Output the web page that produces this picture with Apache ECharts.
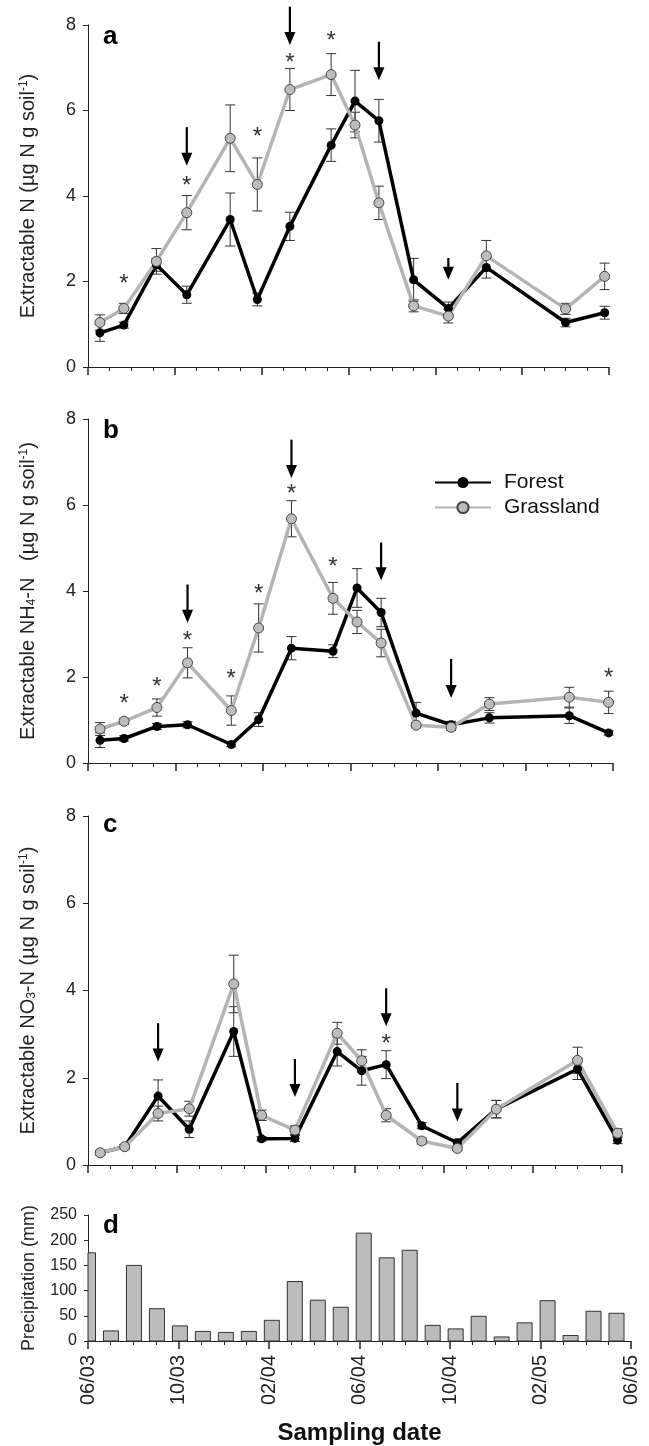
<!DOCTYPE html>
<html>
<head>
<meta charset="utf-8">
<title>Extractable N and precipitation</title>
<script src="https://cdn.jsdelivr.net/npm/echarts@6/dist/echarts.min.js"></script>
<style>
  html, body { margin: 0; padding: 0; background: #fff; }
  #chart { width: 649px; height: 1446px; }
</style>
</head>
<body>
<div id="chart"></div>
<script>
// sampling dates, in months after 1 June 2003
const sampleMonths = [0.55, 1.65, 3.15, 4.55, 6.55, 7.8, 9.3, 11.2, 12.3, 13.4, 15.0, 16.6, 18.35, 22.0, 23.8];
const dateLabels = ['06/03', '10/03', '02/04', '06/04', '10/04', '02/05', '06/05'];

// a: extractable N (mean and standard error)
const forestN = [0.80, 0.98, 2.39, 1.69, 3.45, 1.58, 3.29, 5.19, 6.22, 5.76, 2.04, 1.37, 2.33, 1.04, 1.27];
const forestNse = [0.2, 0.07, 0.15, 0.2, 0.62, 0.15, 0.33, 0.38, 0.72, 0.5, 0.5, 0.15, 0.25, 0.1, 0.15];
const grassN = [1.04, 1.37, 2.47, 3.61, 5.35, 4.27, 6.49, 6.84, 5.66, 3.84, 1.43, 1.19, 2.60, 1.36, 2.12];
const grassNse = [0.18, 0.12, 0.3, 0.4, 0.78, 0.62, 0.49, 0.49, 0.3, 0.39, 0.14, 0.16, 0.36, 0.13, 0.31];

// b: extractable NH4-N
const forestNH4 = [0.53, 0.57, 0.85, 0.89, 0.43, 1.01, 2.67, 2.60, 4.07, 3.50, 1.16, 0.89, 1.05, 1.10, 0.70];
const forestNH4se = [0.17, 0.06, 0.07, 0.07, 0.05, 0.16, 0.27, 0.15, 0.45, 0.33, 0.25, 0.08, 0.12, 0.18, 0.05];
const grassNH4 = [0.79, 0.97, 1.29, 2.33, 1.22, 3.14, 5.68, 3.83, 3.28, 2.79, 0.88, 0.83, 1.37, 1.53, 1.41];
const grassNH4se = [0.15, 0.07, 0.2, 0.35, 0.34, 0.56, 0.42, 0.37, 0.27, 0.32, 0.06, 0.07, 0.15, 0.23, 0.26];

// c: extractable NO3-N
const forestNO3 = [0.28, 0.42, 1.58, 0.82, 3.06, 0.60, 0.61, 2.60, 2.16, 2.30, 0.90, 0.51, 1.28, 2.20, 0.57];
const forestNO3se = [0.05, 0.05, 0.37, 0.19, 0.57, 0.05, 0.07, 0.33, 0.33, 0.32, 0.07, 0.08, 0.2, 0.24, 0.08];
const grassNO3 = [0.28, 0.42, 1.18, 1.29, 4.15, 1.14, 0.80, 3.02, 2.39, 1.14, 0.55, 0.38, 1.28, 2.40, 0.73];
const grassNO3se = [0.05, 0.05, 0.17, 0.17, 0.66, 0.12, 0.1, 0.25, 0.25, 0.15, 0.07, 0.05, 0.2, 0.3, 0.1];

// arrows: [sample index, tail value, tip value]; asterisks: [sample index, value]
const arrowsN = [[3, 5.61, 4.71], [6, 8.43, 7.53], [9, 7.61, 6.71], [11, 2.55, 2.04]];
const arrowsNH4 = [[3, 4.15, 3.26], [6, 7.52, 6.63], [9, 5.13, 4.25], [11, 2.42, 1.51]];
const arrowsNO3 = [[2, 3.25, 2.37], [6, 2.43, 1.56], [9, 4.05, 3.18], [11, 1.88, 1.00]];
const starsN = [[1, 2.04], [3, 4.35], [5, 5.49], [6, 7.22], [7, 7.73]];
const starsNH4 = [[1, 1.49], [2, 1.88], [3, 2.95], [4, 2.05], [5, 4.03], [6, 6.37], [7, 4.67], [14, 2.09]];
const starsNO3 = [[9, 2.89]];

// d: monthly precipitation (mm), June 2003 .. May 2005
const precipitation = [175, 20, 150, 64, 30, 19, 17, 19, 41, 118, 81, 67, 214, 165, 180, 31, 24, 49, 8, 36, 80, 11, 59, 55];

const FONT = '"Liberation Sans", Arial, Helvetica, sans-serif';
const INK = '#222';

const panels = [
  { letter: 'a', forest: forestN, forestSe: forestNse, grass: grassN, grassSe: grassNse,
    arrows: arrowsN, stars: starsN, name: 'Extractable N (µg N g soil{sup|-1})',
    top: 25, height: 342, width: 521, letterTop: 24 },
  { letter: 'b', forest: forestNH4, forestSe: forestNH4se, grass: grassNH4, grassSe: grassNH4se,
    arrows: arrowsNH4, stars: starsNH4, name: 'Extractable NH{sub|4}-N   (µg N g soil{sup|-1})',
    top: 419, height: 344, width: 525, letterTop: 418 },
  { letter: 'c', forest: forestNO3, forestSe: forestNO3se, grass: grassNO3, grassSe: grassNO3se,
    arrows: arrowsNO3, stars: starsNO3, name: 'Extractable NO{sub|3}-N (µg N g soil{sup|-1})',
    top: 816, height: 349, width: 534, letterTop: 812 }
];

function renderErrorBar(params, api) {
  const lo = api.coord([api.value(0), api.value(1)]);
  const hi = api.coord([api.value(0), api.value(2)]);
  const style = { stroke: '#333', lineWidth: 1 };
  return {
    type: 'group',
    children: [
      { type: 'line', shape: { x1: lo[0], y1: lo[1], x2: hi[0], y2: hi[1] }, style: style },
      { type: 'line', shape: { x1: lo[0] - 5, y1: lo[1], x2: lo[0] + 5, y2: lo[1] }, style: style },
      { type: 'line', shape: { x1: hi[0] - 5, y1: hi[1], x2: hi[0] + 5, y2: hi[1] }, style: style }
    ]
  };
}

function renderArrow(params, api) {
  const tail = api.coord([api.value(0), api.value(1)]);
  const tip = api.coord([api.value(0), api.value(2)]);
  return {
    type: 'group',
    children: [
      { type: 'line', shape: { x1: tail[0], y1: tail[1], x2: tip[0], y2: tip[1] - 10 },
        style: { stroke: '#000', lineWidth: 2.2 } },
      { type: 'polygon', shape: { points: [[tip[0] - 5.5, tip[1] - 13], [tip[0] + 5.5, tip[1] - 13], [tip[0], tip[1]]] },
        style: { fill: '#000' } }
    ]
  };
}

function renderStar(params, api) {
  const p = api.coord([api.value(0), api.value(1)]);
  return {
    type: 'text',
    x: p[0],
    y: p[1] + 5,
    style: { text: '*', font: '24px ' + FONT, fill: '#333', align: 'center', verticalAlign: 'middle' }
  };
}

// precipitation bars, cut off at the plot edge like the first (June 2003) bar
function renderBar(params, api) {
  const top = api.coord([api.value(0), api.value(1)]);
  const base = api.coord([api.value(0), 0]);
  const cs = params.coordSys;
  const shape = echarts.graphic.clipRectByRect(
    { x: top[0] - 7.5, y: top[1], width: 15, height: base[1] - top[1] },
    { x: cs.x, y: cs.y, width: cs.width, height: cs.height }
  );
  return shape && {
    type: 'rect', shape: shape,
    style: { fill: '#bcbcbc', stroke: '#333', lineWidth: 1 }
  };
}

const grid = [];
const xAxis = [];
const yAxis = [];
const series = [];

const nameRich = {
  sup: { fontSize: 12, fontFamily: FONT, color: INK, verticalAlign: 'top' },
  sub: { fontSize: 12, fontFamily: FONT, color: INK, verticalAlign: 'bottom' }
};

function timeAxis(i, extra) {
  return Object.assign({
    gridIndex: i, type: 'value', min: 0, max: 24, interval: 4,
    axisLine: { show: true, onZero: false, lineStyle: { color: INK, width: 1 } },
    axisTick: { show: true, length: 8, lineStyle: { color: INK, width: 1.5 } },
    minorTick: { show: true, splitNumber: 4, length: 4, lineStyle: { color: INK, width: 1 } },
    axisLabel: { show: false },
    splitLine: { show: false },
    minorSplitLine: { show: false }
  }, extra || {});
}

panels.forEach((p, i) => {
  grid.push({ left: 88, top: p.top, width: p.width, height: p.height });
  xAxis.push(timeAxis(i));
  yAxis.push({
    gridIndex: i, type: 'value', min: 0, max: 8, interval: 2,
    axisLine: { show: true, lineStyle: { color: INK, width: 1 } },
    axisTick: { show: true, length: 5, lineStyle: { color: INK } },
    axisLabel: { fontSize: 18, color: INK, margin: 12, fontFamily: FONT },
    splitLine: { show: false },
    name: p.name, nameLocation: 'middle', nameRotate: 90, nameGap: 50,
    nameTextStyle: { fontSize: 20, color: INK, fontFamily: FONT, rich: nameRich }
  });

  const pts = (vals) => vals.map((v, k) => [sampleMonths[k], v]);
  const bars = (vals, se) => vals.map((v, k) => [sampleMonths[k], v - se[k], v + se[k]]);

  series.push(
    { type: 'custom', xAxisIndex: i, yAxisIndex: i, renderItem: renderErrorBar,
      encode: { x: 0, y: [1, 2] }, data: bars(p.forest, p.forestSe), silent: true },
    { name: 'Forest', type: 'line', xAxisIndex: i, yAxisIndex: i, data: pts(p.forest),
      symbol: 'circle', symbolSize: 9,
      lineStyle: { color: '#000', width: 3.5 }, itemStyle: { color: '#000' } },
    { type: 'custom', xAxisIndex: i, yAxisIndex: i, renderItem: renderErrorBar,
      encode: { x: 0, y: [1, 2] }, data: bars(p.grass, p.grassSe), silent: true },
    { name: 'Grassland', type: 'line', xAxisIndex: i, yAxisIndex: i, data: pts(p.grass),
      symbol: 'circle', symbolSize: 10,
      lineStyle: { color: '#b4b4b4', width: 3.5 },
      itemStyle: { color: '#bdbdbd', borderColor: '#444', borderWidth: 1 } },
    { type: 'custom', xAxisIndex: i, yAxisIndex: i, renderItem: renderArrow,
      encode: { x: 0, y: [1, 2] }, silent: true,
      data: p.arrows.map(a => [sampleMonths[a[0]], a[1], a[2]]) },
    { type: 'custom', xAxisIndex: i, yAxisIndex: i, renderItem: renderStar,
      encode: { x: 0, y: 1 }, silent: true,
      data: p.stars.map(s => [sampleMonths[s[0]], s[1]]) }
  );
});

// d: precipitation panel
grid.push({ left: 88, top: 1215, width: 543, height: 129 });
xAxis.push(timeAxis(3, {
  axisLabel: {
    show: true, rotate: 90, fontSize: 20, color: INK, margin: 14, fontFamily: FONT,
    formatter: (v) => dateLabels[Math.round(v / 4)]
  },
  name: 'Sampling date', nameLocation: 'middle', nameGap: 80,
  nameTextStyle: { fontSize: 24, fontWeight: 'bold', color: '#111', fontFamily: FONT }
}));
// monthly bars sit on a slightly wider month scale than the sampling axis
xAxis.push({ gridIndex: 3, type: 'value', min: 0, max: 23.63, show: false });
yAxis.push({
  gridIndex: 3, type: 'value', min: 0, max: 250, interval: 50,
  axisLine: { show: true, lineStyle: { color: INK, width: 1 } },
  axisTick: { show: true, length: 4, lineStyle: { color: INK } },
  axisLabel: { fontSize: 16, color: INK, margin: 11, fontFamily: FONT },
  splitLine: { show: false },
  name: 'Precipitation (mm)', nameLocation: 'middle', nameRotate: 90, nameGap: 50,
  nameTextStyle: { fontSize: 18, color: INK, fontFamily: FONT }
});
series.push({
  type: 'custom', xAxisIndex: 4, yAxisIndex: 3, renderItem: renderBar,
  encode: { x: 0, y: 1 }, silent: true,
  data: precipitation.map((v, k) => [k, v])
});

const chart = echarts.init(document.getElementById('chart'), null, { renderer: 'canvas' });
chart.setOption({
  animation: false,
  backgroundColor: '#fff',
  textStyle: { fontFamily: FONT },
  grid: grid,
  xAxis: xAxis,
  yAxis: yAxis,
  legend: {
    data: ['Forest', 'Grassland'],
    orient: 'vertical', left: 429, top: 467,
    itemWidth: 56, itemHeight: 14, itemGap: 4,
    textStyle: { fontSize: 21, color: '#111', fontFamily: FONT, padding: [0, 0, 0, 8] },
    selectedMode: false
  },
  graphic: panels.map(p => p.letter).concat('d').map((t, i) => ({
    type: 'text', left: 103, top: i < 3 ? panels[i].letterTop : 1213,
    style: { text: t, font: 'bold 26px ' + FONT, fill: '#000' }
  })),
  series: series
});
</script>
</body>
</html>
